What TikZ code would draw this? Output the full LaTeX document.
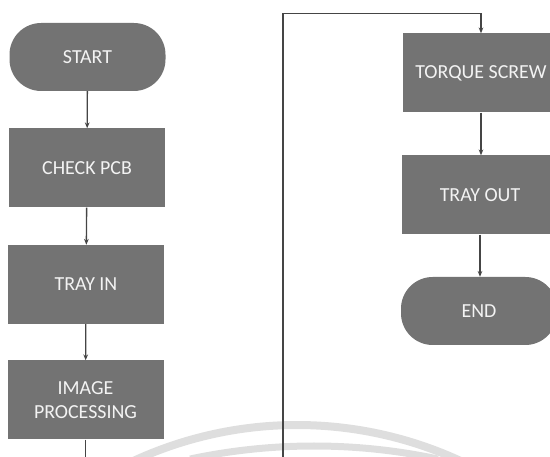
\documentclass[tikz,border=0pt]{standalone}
\usepackage{fontspec}
\setmainfont{Carlito}
\usetikzlibrary{arrows.meta}

\tikzset{
  stepbox/.style={rectangle, fill=boxgray, text=boxtext, minimum width=4.68cm,
    minimum height=2.37cm, align=center, inner sep=0pt, font=\fontsize{17}{20.5}\selectfont},
  termbox/.style={stepbox, minimum height=2.04cm, rounded corners=0.95cm},
  flow/.style={draw=linegray, line width=0.040cm, -{Stealth[length=5pt,width=4pt]}},
  plain/.style={draw=linegray, line width=0.040cm}
}

\begin{document}
\begin{tikzpicture}
                        \clip (0,0) rectangle (16.500000,13.710000);
                        \useasboundingbox (0,0) rectangle (16.500000,13.710000);

                        % Changing colors
                        \definecolor{boxgray}{rgb}{0.450980,0.450980,0.450980}%
                        \definecolor{boxtext}{rgb}{0.952941,0.952941,0.952941}%
                        \definecolor{linegray}{rgb}{0.270588,0.270588,0.270588}%
                        \definecolor{markgray}{rgb}{0.870588,0.870588,0.870588}%

                        % Drawing watermark arcs
                        \draw [markgray, line width=0.240cm] (8.910000,-10.740000) ++(118:11.700000) arc (118:62:11.700000);%
                        \draw [markgray, line width=0.210cm] (9.420000,-17.550000) ++(102:17.880000) arc (102:78:17.880000);%

                        % Left column
                        \node [termbox] (start) at (2.625000,12.000000) {START};%
                        \node [stepbox] (check) at (2.610000,8.670000) {CHECK PCB};%
                        \node [stepbox] (trayin) at (2.580000,5.175000) {TRAY IN};%
                        \node [stepbox] (image) at (2.565000,1.710000) {IMAGE\\PROCESSING};%

                        % Right column
                        \node [stepbox] (torque) at (14.430000,11.520000) {TORQUE SCREW};%
                        \node [stepbox] (trayout) at (14.400000,7.860000) {TRAY OUT};%
                        \node [termbox] (end) at (14.370000,4.380000) {END};%

                        % Free ends at the page edge
                        \coordinate (cutleft) at (2.565000,0.000000);%
                        \coordinate (cutright) at (8.490000,0.000000);%
                        \coordinate (looptop) at (8.490000,13.300000);%

                        % Drawing connectors
                        \draw [flow] (start) -- (check);%
                        \draw [flow] (check) -- (trayin);%
                        \draw [flow] (trayin) -- (image);%
                        \draw [plain] (image) -- (cutleft);%
                        \draw [flow] (cutright) -- (looptop) -| (torque.north);%
                        \draw [flow] (torque.south) -- (torque.south |- trayout.north);%
                        \draw [flow] (trayout.south) -- (trayout.south |- end.north);%
                    \end{tikzpicture}
\end{document}
